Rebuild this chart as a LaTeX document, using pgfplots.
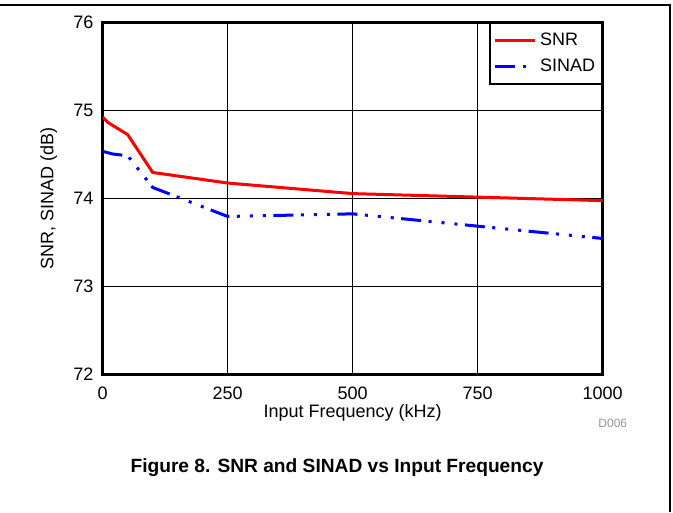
\documentclass[border=0pt]{standalone}
\usepackage{fontspec}
\setmainfont{Liberation Sans}
\usepackage{pgfplots}
\pgfplotsset{compat=1.18}
\definecolor{snrred}{RGB}{255,0,0}
\definecolor{sinadblue}{RGB}{0,0,255}
\definecolor{tagray}{RGB}{150,150,150}

\begin{document}
\begin{tikzpicture}[x=0.6pt,y=0.6pt]
% page size in reference pixels, origin bottom-left
\useasboundingbox (0,0) rectangle (673,512);
\draw[line width=0.9pt] (0,507) -- (670,507) -- (670,0);

\begin{axis}[
  at={(61.62pt,82.8pt)},
  anchor=south west,
  width=300pt,
  height=211.2pt,
  scale only axis,
  xmin=0, xmax=1000,
  ymin=72, ymax=76,
  xtick={0,250,500,750,1000},
  ytick={72,73,74,75,76},
  grid=major,
  grid style={black, line width=0.6pt},
  axis line style={line width=1.8pt},
  tick style={draw=none},
  font=\fontsize{10.8}{13}\selectfont,
  /pgf/number format/assume math mode=true,
  /pgf/number format/1000 sep={},
  scaled ticks=false,
  xticklabel style={yshift=-4.5pt},
  yticklabel style={xshift=-2pt},
  xlabel={Input Frequency (kHz)},
  ylabel={SNR, SINAD (dB)},
  xlabel style={yshift=4.2pt},
  ylabel style={yshift=3pt},
  legend style={at={(1,1)}, anchor=north east, draw=black, line width=1.2pt,
    font=\fontsize{10.8}{13}\selectfont, inner xsep=2pt, inner ysep=4pt,
    row sep=2.5pt, cells={anchor=west}},
  legend image code/.code={\draw[#1] (0cm,0cm) -- (24pt,0cm);},
]
\addplot[color=snrred, line width=1.8pt] coordinates {
  (0,74.92) (10,74.86) (50,74.72) (100,74.29) (250,74.17)
  (500,74.05) (750,74.01) (1000,73.97)
};
\addlegendentry{SNR\hspace{14pt}}
\addplot[color=sinadblue, line width=1.8pt,
  dash pattern=on 12pt off 4.5pt on 1.8pt off 6pt on 1.8pt off 6pt on 1.8pt off 4.5pt] coordinates {
  (0,74.53) (20,74.50) (50,74.48) (100,74.12) (250,73.79)
  (500,73.82) (750,73.68) (1000,73.54)
};
\addlegendentry{SINAD\hspace{4pt}}
\end{axis}

\node[text=tagray, font=\fontsize{7.2}{8.6}\selectfont, anchor=east] at (633,89) {D006};
\node[font=\bfseries\fontsize{11.5}{13.8}\selectfont] at (337,44) {Figure 8. SNR and SINAD vs Input Frequency};
\end{tikzpicture}
\end{document}
